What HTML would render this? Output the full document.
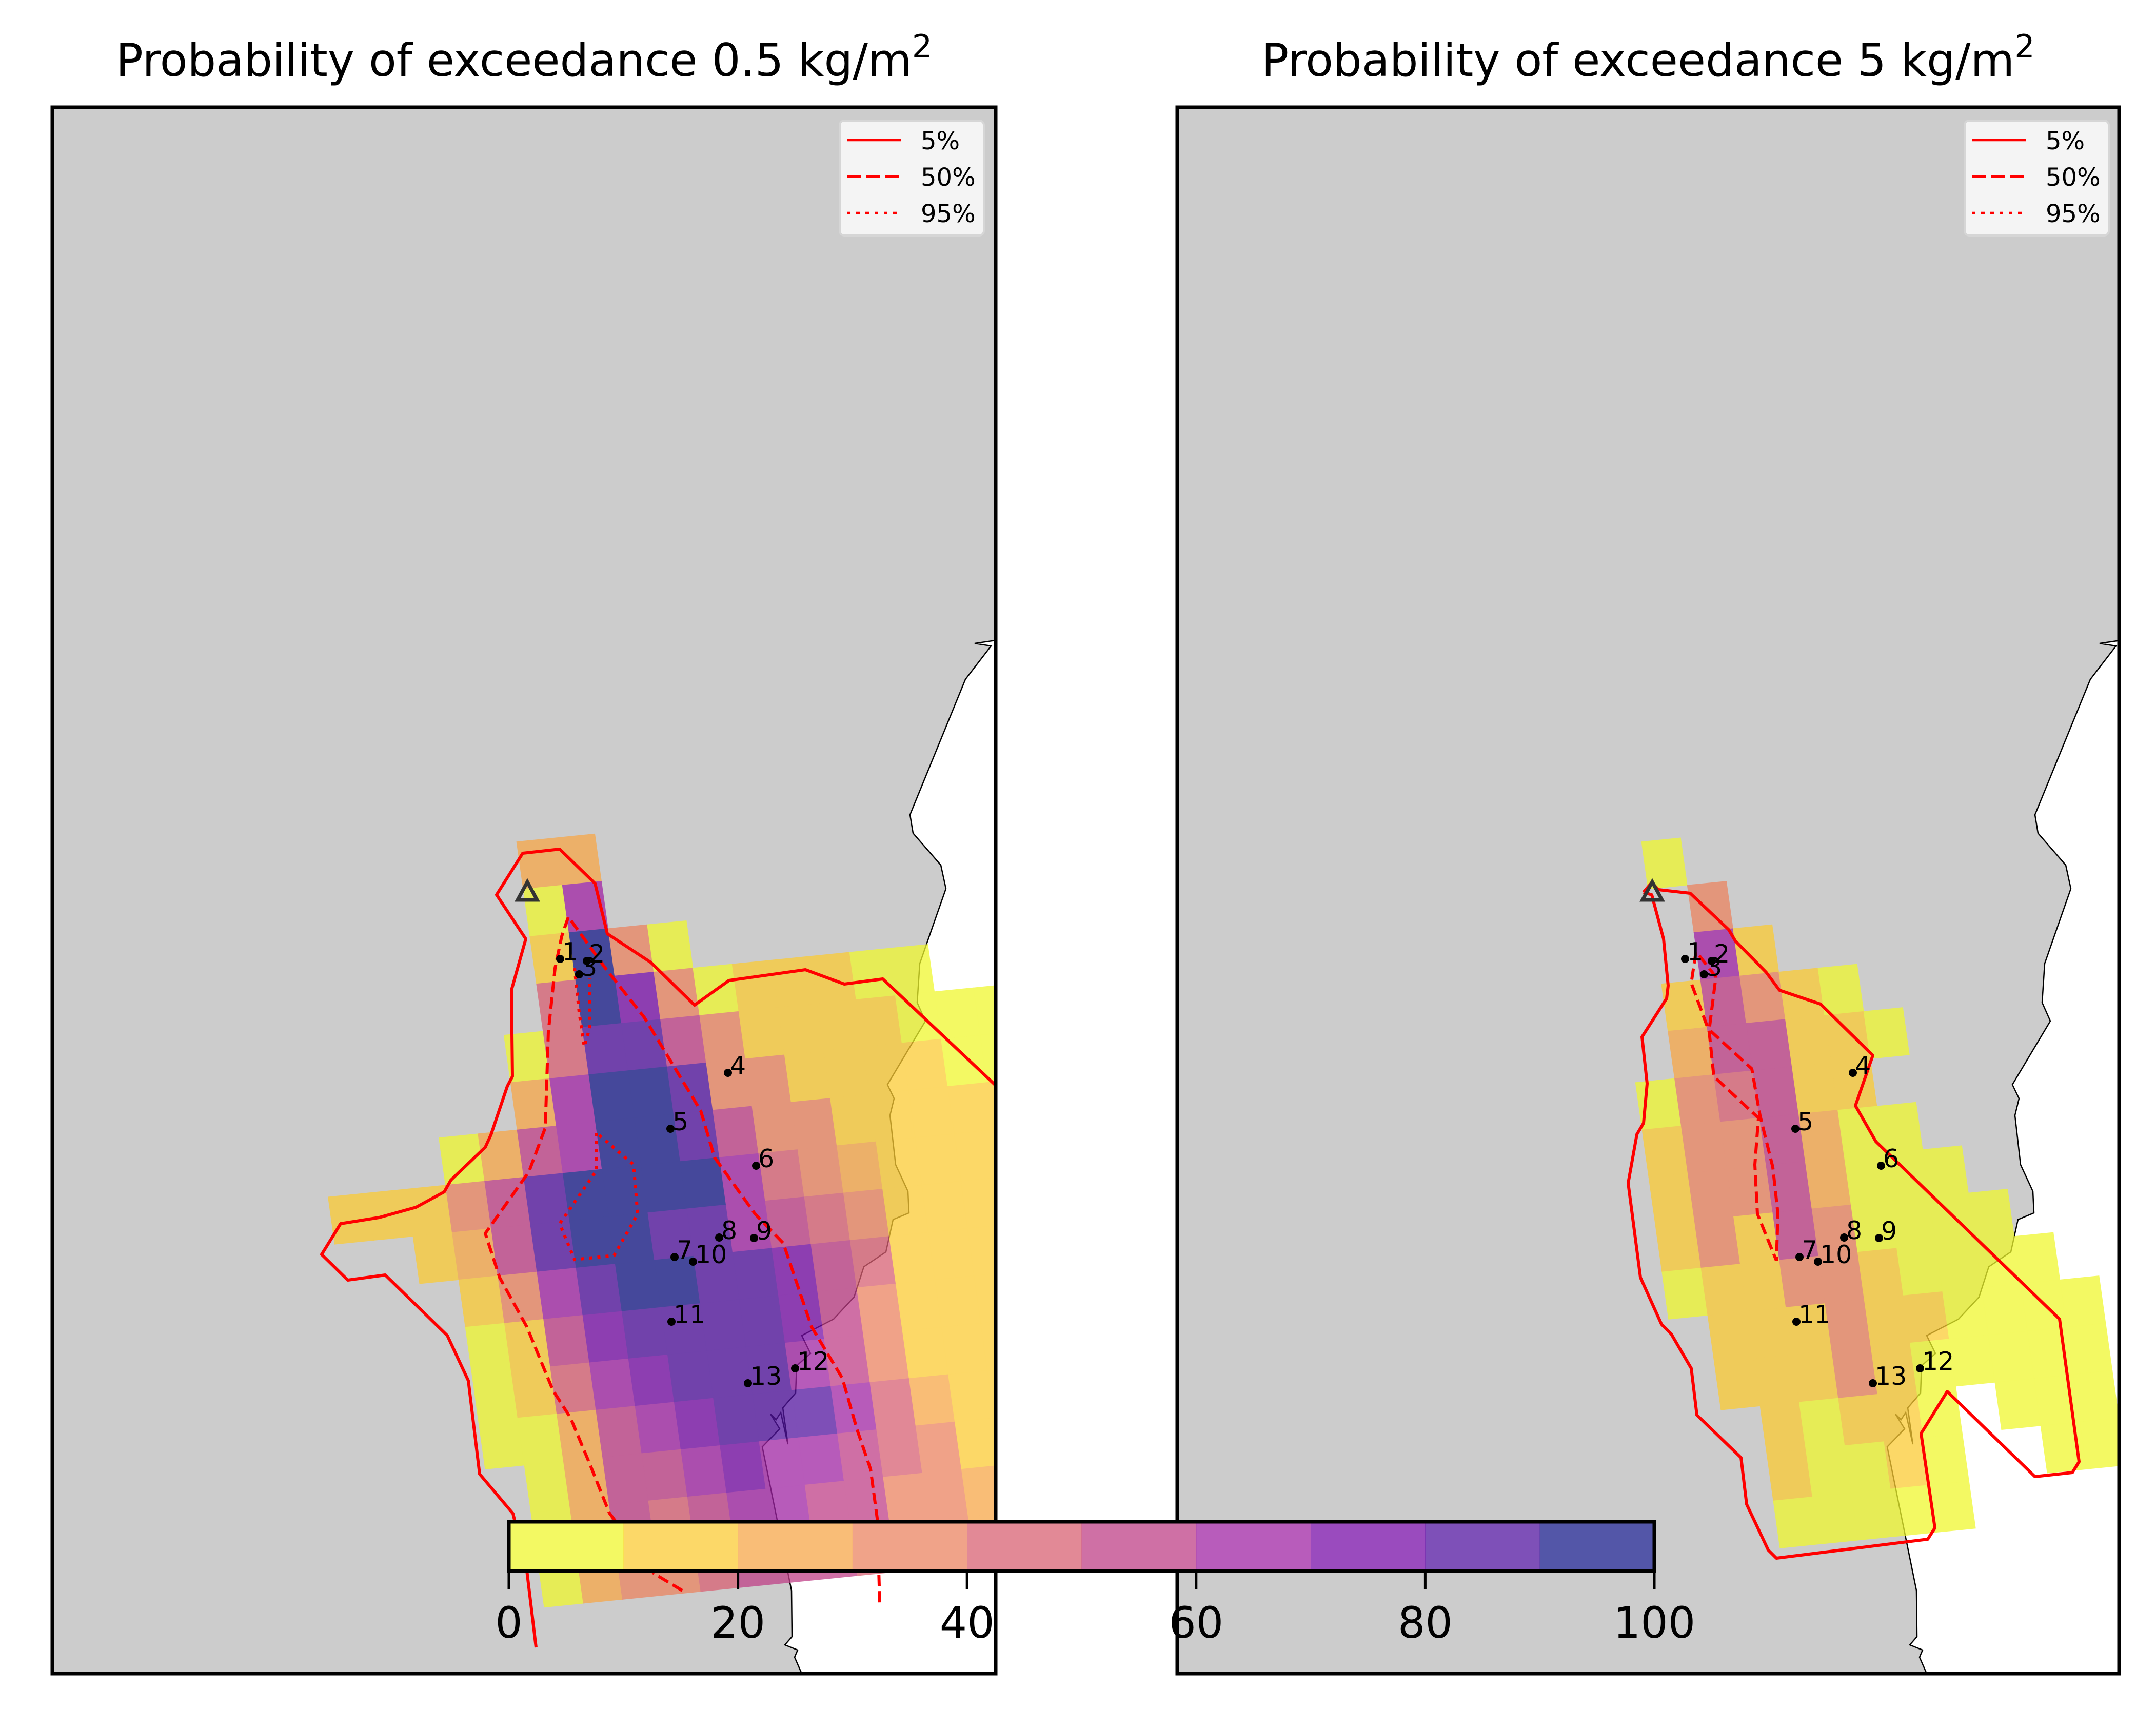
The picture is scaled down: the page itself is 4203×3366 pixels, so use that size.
<!DOCTYPE html>
<html><head><meta charset="utf-8"><style>html,body{margin:0;padding:0;background:#fff}svg{display:block}</style></head>
<body>
<svg id="fig" xmlns="http://www.w3.org/2000/svg" width="4203" height="3366" viewBox="0 0 4203 3366" font-family="'DejaVu Sans','Liberation Sans',sans-serif">
<rect x="0" y="0" width="4203" height="3366" fill="#fff"/>
<defs>
<clipPath id="clipL"><rect x="102" y="209" width="1839" height="3053"/></clipPath>
<clipPath id="clipR"><rect x="2295" y="209" width="1836" height="3053"/></clipPath>
</defs>
<g id="panelL"></g>
<g id="panelR"></g>
<g id="cbar"></g>
</svg>
<script>
// ---- data ----
const palette = ['#eff72f','#fbcb35','#f7a749','#eb8461','#d86173','#bf4087','#a025a4','#780fa8','#5315a0','#191d8b'];
const cbarTicks = [0,20,40,60,80,100];
const titles = ['Probability of exceedance 0.5 kg/m', 'Probability of exceedance 5 kg/m'];
const legendLabels = ['5%','50%','95%'];
const rowJStartLeft = -6;
const leftRowK0 = [-2,-2,-2,-2,-3,-3,-5,-8,-6,-5,-5,-5,-5,-4,-4,-4];
const leftRows = [
 [25,25],
 [5,65],
 [15,95,35,5],
 [45,95,75,35,5,15,15,15,5,5],
 [5,45,85,85,55,35,15,15,15,15,5,5,5],
 [25,65,95,95,85,35,35,15,15,15,15,5,5],
 [5,25,55,65,95,95,85,55,35,35,15,15,15,15,15],
 [15,15,15,35,55,85,95,95,95,95,65,45,35,25,15,15,15,15],
 [15,25,55,85,95,95,85,85,65,55,45,35,15,15,15,15],
 [15,35,65,85,95,95,85,85,75,55,45,15,15,15,15],
 [5,15,55,75,85,85,85,85,75,55,35,15,15,15],
 [5,15,45,65,75,85,85,85,65,55,35,15,15,15],
 [5,5,25,55,65,75,85,85,85,65,45,25,15,15],
 [5,25,55,55,65,75,65,65,55,45,35,15,15],
 [5,25,55,45,55,65,65,55,55,35,35,25,15],
 [5,25,35,35,45,55,55,55,45,45,35,25]
];
const rowJStartRight = -6;
const rightRowK0 = [-2,-1,-1,-2,-2,-3,-3,-3,-3,-3,-2,-2,-1,-1,-1];
const rightRows = [
 [5],
 [35],
 [65,15],
 [15,55,35,15,5],
 [25,55,55,15,15,5],
 [5,35,45,55,15,15],
 [15,35,35,55,25,5,5],
 [15,35,35,55,25,5,5,5],
 [15,35,15,55,35,5,5,5,5],
 [5,15,15,35,35,15,5,5,5,5],
 [15,15,15,35,15,15,5,5,5,5],
 [15,15,15,35,15,5,5,5,5,5],
 [15,5,15,15,5,null,5,5,5],
 [15,5,5,15,5,null,null,5,5],
 [5,5,5,5,5]
];
// map coordinates (left-panel frame)
const coastX = [1941,1900,1932,1882,1774,1780,1834,1844,1793,1788,1804,1730,1743,1735,1746,1770,1772,1741,1727,1684,1665,1625,1563,1580,1553,1551,1526,1536,1522,1513,1502,1520,1486,1543,1544,1530,1555,1549,1563];
const coastY = [1248,1254,1259,1324,1588,1624,1686,1732,1878,1954,1990,2114,2141,2174,2270,2322,2364,2377,2440,2469,2528,2571,2603,2638,2662,2715,2744,2815,2753,2767,2756,2785,2820,3100,3190,3206,3216,3230,3262];
const siteNames = ['1','2','3','4','5','6','7','8','9','10','11','12','13'];
const siteX = [1092,1144,1129,1419,1307,1474,1315,1402,1470,1351,1309,1550,1458];
const siteY = [1869,1873,1899,2091,2200,2272,2450,2412,2413,2459,2576,2667,2696];
const ventX = 1028, ventY = 1737;
const L5x = [1045,1027,1000,935,913,872,751,678,627,664,739,811,866,879,946,957,989,999,997,1025,968,1019,1091,1160,1184,1269,1354,1421,1570,1646,1721,1950];
const L5y = [3211,3061,2950,2873,2691,2603,2485,2495,2445,2385,2373,2353,2323,2300,2236,2212,2117,2098,1930,1830,1744,1663,1655,1722,1820,1876,1959,1911,1890,1918,1908,2124];
const L50x = [1330,1275,1188,1150,1112,1078,1027,974,946,1031,1063,1069,1082,1095,1108,1180,1256,1366,1393,1472,1527,1582,1642,1671,1697,1710,1715];
const L50y = [3100,3067,2949,2854,2763,2710,2586,2490,2404,2284,2198,2011,1887,1825,1787,1887,1983,2165,2256,2366,2423,2586,2686,2787,2863,2959,3125];
const L95ax = [1120,1129,1139,1150,1150];
const L95ay = [1887,1973,2040,2002,1906];
const L95bx = [1163,1163,1091,1120,1197,1243,1235,1163];
const L95by = [2208,2281,2385,2455,2447,2366,2270,2208];
const R5x = [1011,1027,1040,1102,1177,1190,1250,1276,1356,1458,1424,1464,1822,1860,1847,1774,1603,1552,1579,1565,1270,1254,1212,1201,1115,1104,1065,1046,1005,981,998,1011,1018,1008,1056,1059,1050,1027,1011];
const R5y = [1739,1720,1734,1741,1812,1834,1895,1930,1957,2057,2155,2225,2571,2849,2870,2878,2712,2794,2978,3000,3037,3021,2932,2841,2758,2667,2600,2581,2490,2306,2211,2189,2112,2021,1946,1921,1830,1744,1739];
const R50x = [1113,1104,1139,1148,1235,1228,1233,1270,1273,1263,1238,1222,1139,1152,1116];
const R50y = [1856,1916,2011,2098,2179,2270,2366,2457,2366,2275,2174,2083,2007,1904,1858];

// ---- geometry ----
const NS='http://www.w3.org/2000/svg';
const AX_TOP=209, AX_BOT=3262;
const panels=[{g:'panelL',left:102,right:1941,dx:0,clip:'clipL'},{g:'panelR',left:2295,right:4131,dx:2193,clip:'clipR'}];
const OX=1237, OY=2179, CA=[76.3,-7.7], CB=[12.9,92.3];
function mx(p,x){return x+p.dx;}
function my(y){return y;}
function lattice(p,k,j){return [OX+p.dx+k*CA[0]+j*CB[0], OY+k*CA[1]+j*CB[1]];}
function binOf(v){return Math.max(0,Math.min(9,Math.floor(v/10)));}
function mk(tag,attrs,parent){const e=document.createElementNS(NS,tag);for(const a in attrs)e.setAttribute(a,attrs[a]);parent.appendChild(e);return e;}
function pts(p,xs,ys){return xs.map((x,i)=>mx(p,x).toFixed(1)+','+my(ys[i]).toFixed(1)).join(' ');}

function drawPanel(pi,rows,rowK0,jStart,c5,c50,c95list,title){
  const p=panels[pi];
  const g=document.getElementById(p.g);
  const inner=mk('g',{'clip-path':'url(#'+p.clip+')'},g);
  
  
  const land=mk('rect',{x:p.left,y:AX_TOP,width:p.right-p.left,height:AX_BOT-AX_TOP,fill:'#cccccc'},inner);
  
  
  const sea=mk('polygon',{points:pts(p,coastX.concat([1960,1960]),coastY.concat([3280,1248])),fill:'#ffffff',stroke:'none'},inner);
  
  
  const coast=mk('polyline',{points:pts(p,coastX,coastY),fill:'none',stroke:'#000',"stroke-width":2.5},inner);
  
  
  const cg=mk('g',{opacity:0.75},inner);
  
  
  rows.forEach((row,ri)=>{
    const j=jStart+ri;
    row.forEach((v,ci)=>{
      if(v===null||v===undefined)return;
      const k=rowK0[ri]+ci;
      const a=lattice(p,k,j),b=lattice(p,k+1,j),c=lattice(p,k+1,j+1),d=lattice(p,k,j+1);
      const col=palette[binOf(v)];
      const cell=mk('polygon',{points:[a,b,c,d].map(q=>q[0].toFixed(1)+','+q[1].toFixed(1)).join(' '),fill:col,stroke:col,'stroke-width':0.8},cg);
      
      
    });
  });
  const s5=mk('polyline',{points:pts(p,c5[0],c5[1]),fill:'none',stroke:'#ff0000','stroke-width':6,'stroke-linejoin':'round'},inner);
  
  
  const s50=mk('polyline',{points:pts(p,c50[0],c50[1]),fill:'none',stroke:'#ff0000','stroke-width':6,'stroke-dasharray':'22,10'},inner);
  
  
  c95list.forEach(c=>{
    const s95=mk('polyline',{points:pts(p,c[0],c[1]),fill:'none',stroke:'#ff0000','stroke-width':6,'stroke-dasharray':'6,10'},inner);
    
    
  });
  // vent triangle
  const vx=mx(p,ventX),vy=my(ventY);
  const tri=mk('polygon',{points:(vx-19)+','+(vy+17)+' '+(vx+19)+','+(vy+17)+' '+vx+','+(vy-18),fill:'none',stroke:'#333','stroke-width':7},inner);
  
  
  siteNames.forEach((n,i)=>{
    const x=mx(p,siteX[i]),y=my(siteY[i]);
    const dot=mk('circle',{cx:x,cy:y,r:8,fill:'#000'},inner);
    
    
    const t=mk('text',{x:x+4,y:y+3,'font-size':49,fill:'#000'},inner);
    t.textContent=n;
    
    
  });
  // axes frame
  const fr=mk('rect',{x:p.left,y:AX_TOP,width:p.right-p.left,height:AX_BOT-AX_TOP,fill:'none',stroke:'#000','stroke-width':7},g);
  
  
  // title
  const tt=mk('text',{x:(p.left+p.right)/2,y:148,'font-size':88,'text-anchor':'middle',fill:'#000'},g);
  tt.textContent=title;
  const sup=mk('tspan',{'baseline-shift':'super','font-size':62},tt);
  sup.textContent='2';
  
  
  // legend
  const lg=mk('g',{},g);
  
  
  const lx=1637+p.dx;
  mk('rect',{x:lx,y:235,width:281,height:224,rx:9,fill:'#f4f4f4',stroke:'#d6d6d6','stroke-width':4},lg);
  const dashes=['none','27,10','7,11'];
  const names=['legend-entry-5','legend-entry-50','legend-entry-95'];
  legendLabels.forEach((lab,i)=>{
    const y=273+i*71;
    const ln=mk('line',{x1:lx+14,y1:y,x2:lx+119,y2:y,stroke:'#ff0000','stroke-width':4.5,'stroke-dasharray':dashes[i]},lg);
    
    
    const tx=mk('text',{x:lx+158,y:y+18,'font-size':48,fill:'#000'},lg);
    tx.textContent=lab;
    
    
  });
}
drawPanel(0,leftRows,leftRowK0,rowJStartLeft,[L5x,L5y],[L50x,L50y],[[L95ax,L95ay],[L95bx,L95by]],titles[0]);
drawPanel(1,rightRows,rightRowK0,rowJStartRight,[R5x,R5y],[R50x,R50y],[],titles[1]);

// colorbar
(function(){
  const g=document.getElementById('cbar');
  const x0=992,x1=3225,y0=2966,y1=3062;
  const cx=v=>x0+(x1-x0)*v/100;
  mk('rect',{x:x0,y:y0,width:x1-x0,height:y1-y0,fill:'#fff'},g);
  palette.forEach((c,i)=>{
    const r=mk('rect',{x:cx(i*10),y:y0,width:cx(10)-cx(0)+0.5,height:y1-y0,fill:c,opacity:0.75},g);
    
    
  });
  const b=mk('rect',{x:x0,y:y0,width:x1-x0,height:y1-y0,fill:'none',stroke:'#000','stroke-width':7},g);
  
  
  cbarTicks.forEach(v=>{
    const tk=mk('line',{x1:cx(v),y1:y1,x2:cx(v),y2:3098,stroke:'#000','stroke-width':5},g);
    
    
    const t=mk('text',{x:cx(v),y:3192,'font-size':84,'text-anchor':'middle',fill:'#000'},g);
    t.textContent=String(v);
    
    
  });
})();
</script>
</body></html>
